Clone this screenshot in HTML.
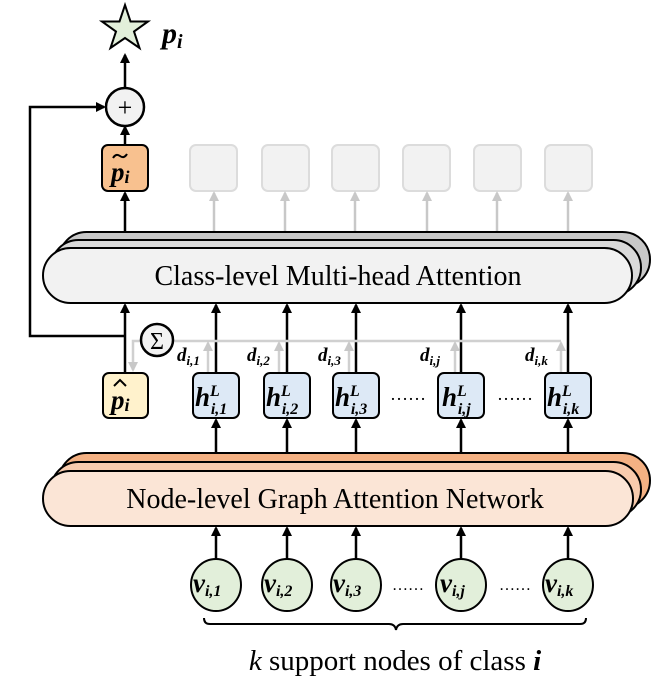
<!DOCTYPE html>
<html><head><meta charset="utf-8"><style>
html,body{margin:0;padding:0;background:#fff}
svg{display:block}
.s{font-family:"Liberation Serif",serif}
.m{font-family:"Liberation Serif",serif;font-weight:bold;font-style:italic}
</style></head><body>
<svg width="665" height="694" viewBox="0 0 665 694" xmlns="http://www.w3.org/2000/svg">
<defs>
<marker id="ab" markerWidth="10" markerHeight="10" refX="8" refY="5" orient="auto" markerUnits="userSpaceOnUse"><path d="M0,0 L10,5 L0,10 z" fill="#000"/></marker>
<marker id="ag" markerWidth="10" markerHeight="10" refX="8" refY="5" orient="auto" markerUnits="userSpaceOnUse"><path d="M0,0 L10,5 L0,10 z" fill="#c8c8c8"/></marker>
</defs>

<polygon points="125,5 130.5,21.5 148,21.5 134,31.5 139.5,48 125,38 110.5,48 116,31.5 102,21.5 119.5,21.5" fill="#e2efda" stroke="#000" stroke-width="2"/>
<text x="162" y="43" class="m" font-size="30">p<tspan font-size="20" dy="5">i</tspan></text>
<line x1="125" y1="88" x2="125" y2="55" stroke="#000" stroke-width="2.5" marker-end="url(#ab)"/>
<circle cx="125" cy="107" r="19" fill="#f2f2f2" stroke="#000" stroke-width="2.5"/>
<text x="125" y="116" class="s" font-size="26" text-anchor="middle">+</text>
<line x1="125" y1="145" x2="125" y2="127" stroke="#000" stroke-width="2.5" marker-end="url(#ab)"/>

<polyline points="125,336 30,336 30,107 104,107" fill="none" stroke="#000" stroke-width="2.5" marker-end="url(#ab)"/>

<rect x="102" y="145" width="46" height="46" rx="6" fill="#f8c18f" stroke="#000" stroke-width="2"/>
<text x="111" y="181" class="m" font-size="27">p<tspan font-size="18" dy="2">i</tspan></text>
<path d="M113,158 Q116,153 120,156 Q124,159 127,154" fill="none" stroke="#000" stroke-width="2"/>

<g fill="#f2f2f2" stroke="#dcdcdc" stroke-width="2">
<rect x="190" y="145" width="47" height="46" rx="6"/>
<rect x="262" y="145" width="47" height="46" rx="6"/>
<rect x="332" y="145" width="47" height="46" rx="6"/>
<rect x="403" y="145" width="47" height="46" rx="6"/>
<rect x="474" y="145" width="47" height="46" rx="6"/>
<rect x="545" y="145" width="47" height="46" rx="6"/>
</g>
<g stroke="#c8c8c8" stroke-width="2.5">
<line x1="214" y1="232" x2="214" y2="193" marker-end="url(#ag)"/>
<line x1="285" y1="232" x2="285" y2="193" marker-end="url(#ag)"/>
<line x1="355" y1="232" x2="355" y2="193" marker-end="url(#ag)"/>
<line x1="427" y1="232" x2="427" y2="193" marker-end="url(#ag)"/>
<line x1="497" y1="232" x2="497" y2="193" marker-end="url(#ag)"/>
<line x1="568" y1="232" x2="568" y2="193" marker-end="url(#ag)"/>
</g>
<line x1="125" y1="232" x2="125" y2="193" stroke="#000" stroke-width="2.5" marker-end="url(#ab)"/>

<rect x="59" y="232" width="591" height="55" rx="27.5" fill="#c8c8c8" stroke="#000" stroke-width="2"/>
<rect x="51" y="240" width="590" height="55" rx="27.5" fill="#d9d9d9" stroke="#000" stroke-width="2"/>
<rect x="43" y="248" width="589" height="55" rx="27.5" fill="#f2f2f2" stroke="#000" stroke-width="2"/>
<text x="338" y="285" class="s" font-size="28" text-anchor="middle">Class-level Multi-head Attention</text>

<g stroke="#000" stroke-width="2.5">
<line x1="125" y1="373" x2="125" y2="305" marker-end="url(#ab)"/>
<line x1="216" y1="373" x2="216" y2="305" marker-end="url(#ab)"/>
<line x1="287" y1="373" x2="287" y2="305" marker-end="url(#ab)"/>
<line x1="356" y1="373" x2="356" y2="305" marker-end="url(#ab)"/>
<line x1="461" y1="373" x2="461" y2="305" marker-end="url(#ab)"/>
<line x1="568" y1="373" x2="568" y2="305" marker-end="url(#ab)"/>
</g>

<g stroke="#d0d0d0" stroke-width="2.5" fill="none">
<polyline points="561,341 133,341 133,370" marker-end="url(#ag)"/>
<line x1="208" y1="373" x2="208" y2="343" marker-end="url(#ag)"/>
<line x1="279" y1="373" x2="279" y2="343" marker-end="url(#ag)"/>
<line x1="349" y1="373" x2="349" y2="343" marker-end="url(#ag)"/>
<line x1="455" y1="373" x2="455" y2="343" marker-end="url(#ag)"/>
<line x1="561" y1="373" x2="561" y2="343" marker-end="url(#ag)"/>
</g>
<circle cx="157" cy="340" r="16" fill="#f2f2f2" stroke="#000" stroke-width="2.5"/>
<text x="157" y="349" class="s" font-size="24" text-anchor="middle">Σ</text>
<g class="m" font-size="19">
<text x="177" y="361">d<tspan font-size="13" dy="4">i,1</tspan></text>
<text x="247" y="361">d<tspan font-size="13" dy="4">i,2</tspan></text>
<text x="318" y="361">d<tspan font-size="13" dy="4">i,3</tspan></text>
<text x="420" y="361">d<tspan font-size="13" dy="4">i,j</tspan></text>
<text x="525" y="361">d<tspan font-size="13" dy="4">i,k</tspan></text>
</g>

<rect x="103" y="373" width="45" height="45" rx="6" fill="#fff2cc" stroke="#000" stroke-width="2"/>
<text x="111" y="409" class="m" font-size="27">p<tspan font-size="18" dy="2">i</tspan></text>
<path d="M114,386 L120,380 L126,386" fill="none" stroke="#000" stroke-width="2"/>

<g fill="#dde9f6" stroke="#000" stroke-width="2">
<rect x="193" y="373" width="46" height="45" rx="6"/>
<rect x="264" y="373" width="46" height="45" rx="6"/>
<rect x="333" y="373" width="46" height="45" rx="6"/>
<rect x="438" y="373" width="46" height="45" rx="6"/>
<rect x="545" y="373" width="46" height="45" rx="6"/>
</g>
<g class="m" font-size="27">
<text x="195" y="406">h<tspan font-size="16" dy="-10">L</tspan><tspan font-size="16" dx="-9" dy="18">i,1</tspan></text>
<text x="266" y="406">h<tspan font-size="16" dy="-10">L</tspan><tspan font-size="16" dx="-9" dy="18">i,2</tspan></text>
<text x="335" y="406">h<tspan font-size="16" dy="-10">L</tspan><tspan font-size="16" dx="-9" dy="18">i,3</tspan></text>
<text x="442" y="406">h<tspan font-size="16" dy="-10">L</tspan><tspan font-size="16" dx="-9" dy="18">i,j</tspan></text>
<text x="547" y="406">h<tspan font-size="16" dy="-10">L</tspan><tspan font-size="16" dx="-9" dy="18">i,k</tspan></text>
</g>
<text x="408" y="400" class="s" font-size="18" text-anchor="middle">……</text>
<text x="515" y="400" class="s" font-size="18" text-anchor="middle">……</text>

<g stroke="#000" stroke-width="2.5">
<line x1="216" y1="455" x2="216" y2="420" marker-end="url(#ab)"/>
<line x1="287" y1="455" x2="287" y2="420" marker-end="url(#ab)"/>
<line x1="356" y1="455" x2="356" y2="420" marker-end="url(#ab)"/>
<line x1="461" y1="455" x2="461" y2="420" marker-end="url(#ab)"/>
<line x1="568" y1="455" x2="568" y2="420" marker-end="url(#ab)"/>
</g>

<rect x="59" y="453" width="591" height="55" rx="27.5" fill="#f4b183" stroke="#000" stroke-width="2"/>
<rect x="51" y="462" width="590" height="55" rx="27.5" fill="#f8cbad" stroke="#000" stroke-width="2"/>
<rect x="43" y="471" width="590" height="55" rx="27.5" fill="#fbe5d6" stroke="#000" stroke-width="2"/>
<text x="335" y="508" class="s" font-size="28" text-anchor="middle">Node-level Graph Attention Network</text>

<g stroke="#000" stroke-width="2.5">
<line x1="216" y1="559" x2="216" y2="528" marker-end="url(#ab)"/>
<line x1="287" y1="559" x2="287" y2="528" marker-end="url(#ab)"/>
<line x1="356" y1="559" x2="356" y2="528" marker-end="url(#ab)"/>
<line x1="461" y1="559" x2="461" y2="528" marker-end="url(#ab)"/>
<line x1="568" y1="559" x2="568" y2="528" marker-end="url(#ab)"/>
</g>
<g fill="#e2efda" stroke="#000" stroke-width="2">
<ellipse cx="216" cy="585" rx="25" ry="26"/>
<ellipse cx="287" cy="585" rx="25" ry="26"/>
<ellipse cx="356" cy="585" rx="25" ry="26"/>
<ellipse cx="461" cy="585" rx="25" ry="26"/>
<ellipse cx="568" cy="585" rx="25" ry="26"/>
</g>
<g class="m" font-size="27">
<text x="193" y="592">v<tspan font-size="16" dy="4">i,1</tspan></text>
<text x="264" y="592">v<tspan font-size="16" dy="4">i,2</tspan></text>
<text x="333" y="592">v<tspan font-size="16" dy="4">i,3</tspan></text>
<text x="440" y="592">v<tspan font-size="16" dy="4">i,j</tspan></text>
<text x="545" y="592">v<tspan font-size="16" dy="4">i,k</tspan></text>
</g>
<text x="408" y="590" class="s" font-size="16" text-anchor="middle">……</text>
<text x="515" y="590" class="s" font-size="16" text-anchor="middle">……</text>

<path d="M204,618 Q204,624 210,624 L389,624 Q395,624 396,630 Q397,624 403,624 L580,624 Q586,624 586,618" fill="none" stroke="#000" stroke-width="2"/>
<text x="395" y="670" class="s" font-size="29" text-anchor="middle"><tspan font-style="italic">k</tspan> support nodes of class <tspan font-weight="bold" font-style="italic">i</tspan></text>
</svg>
</body></html>
